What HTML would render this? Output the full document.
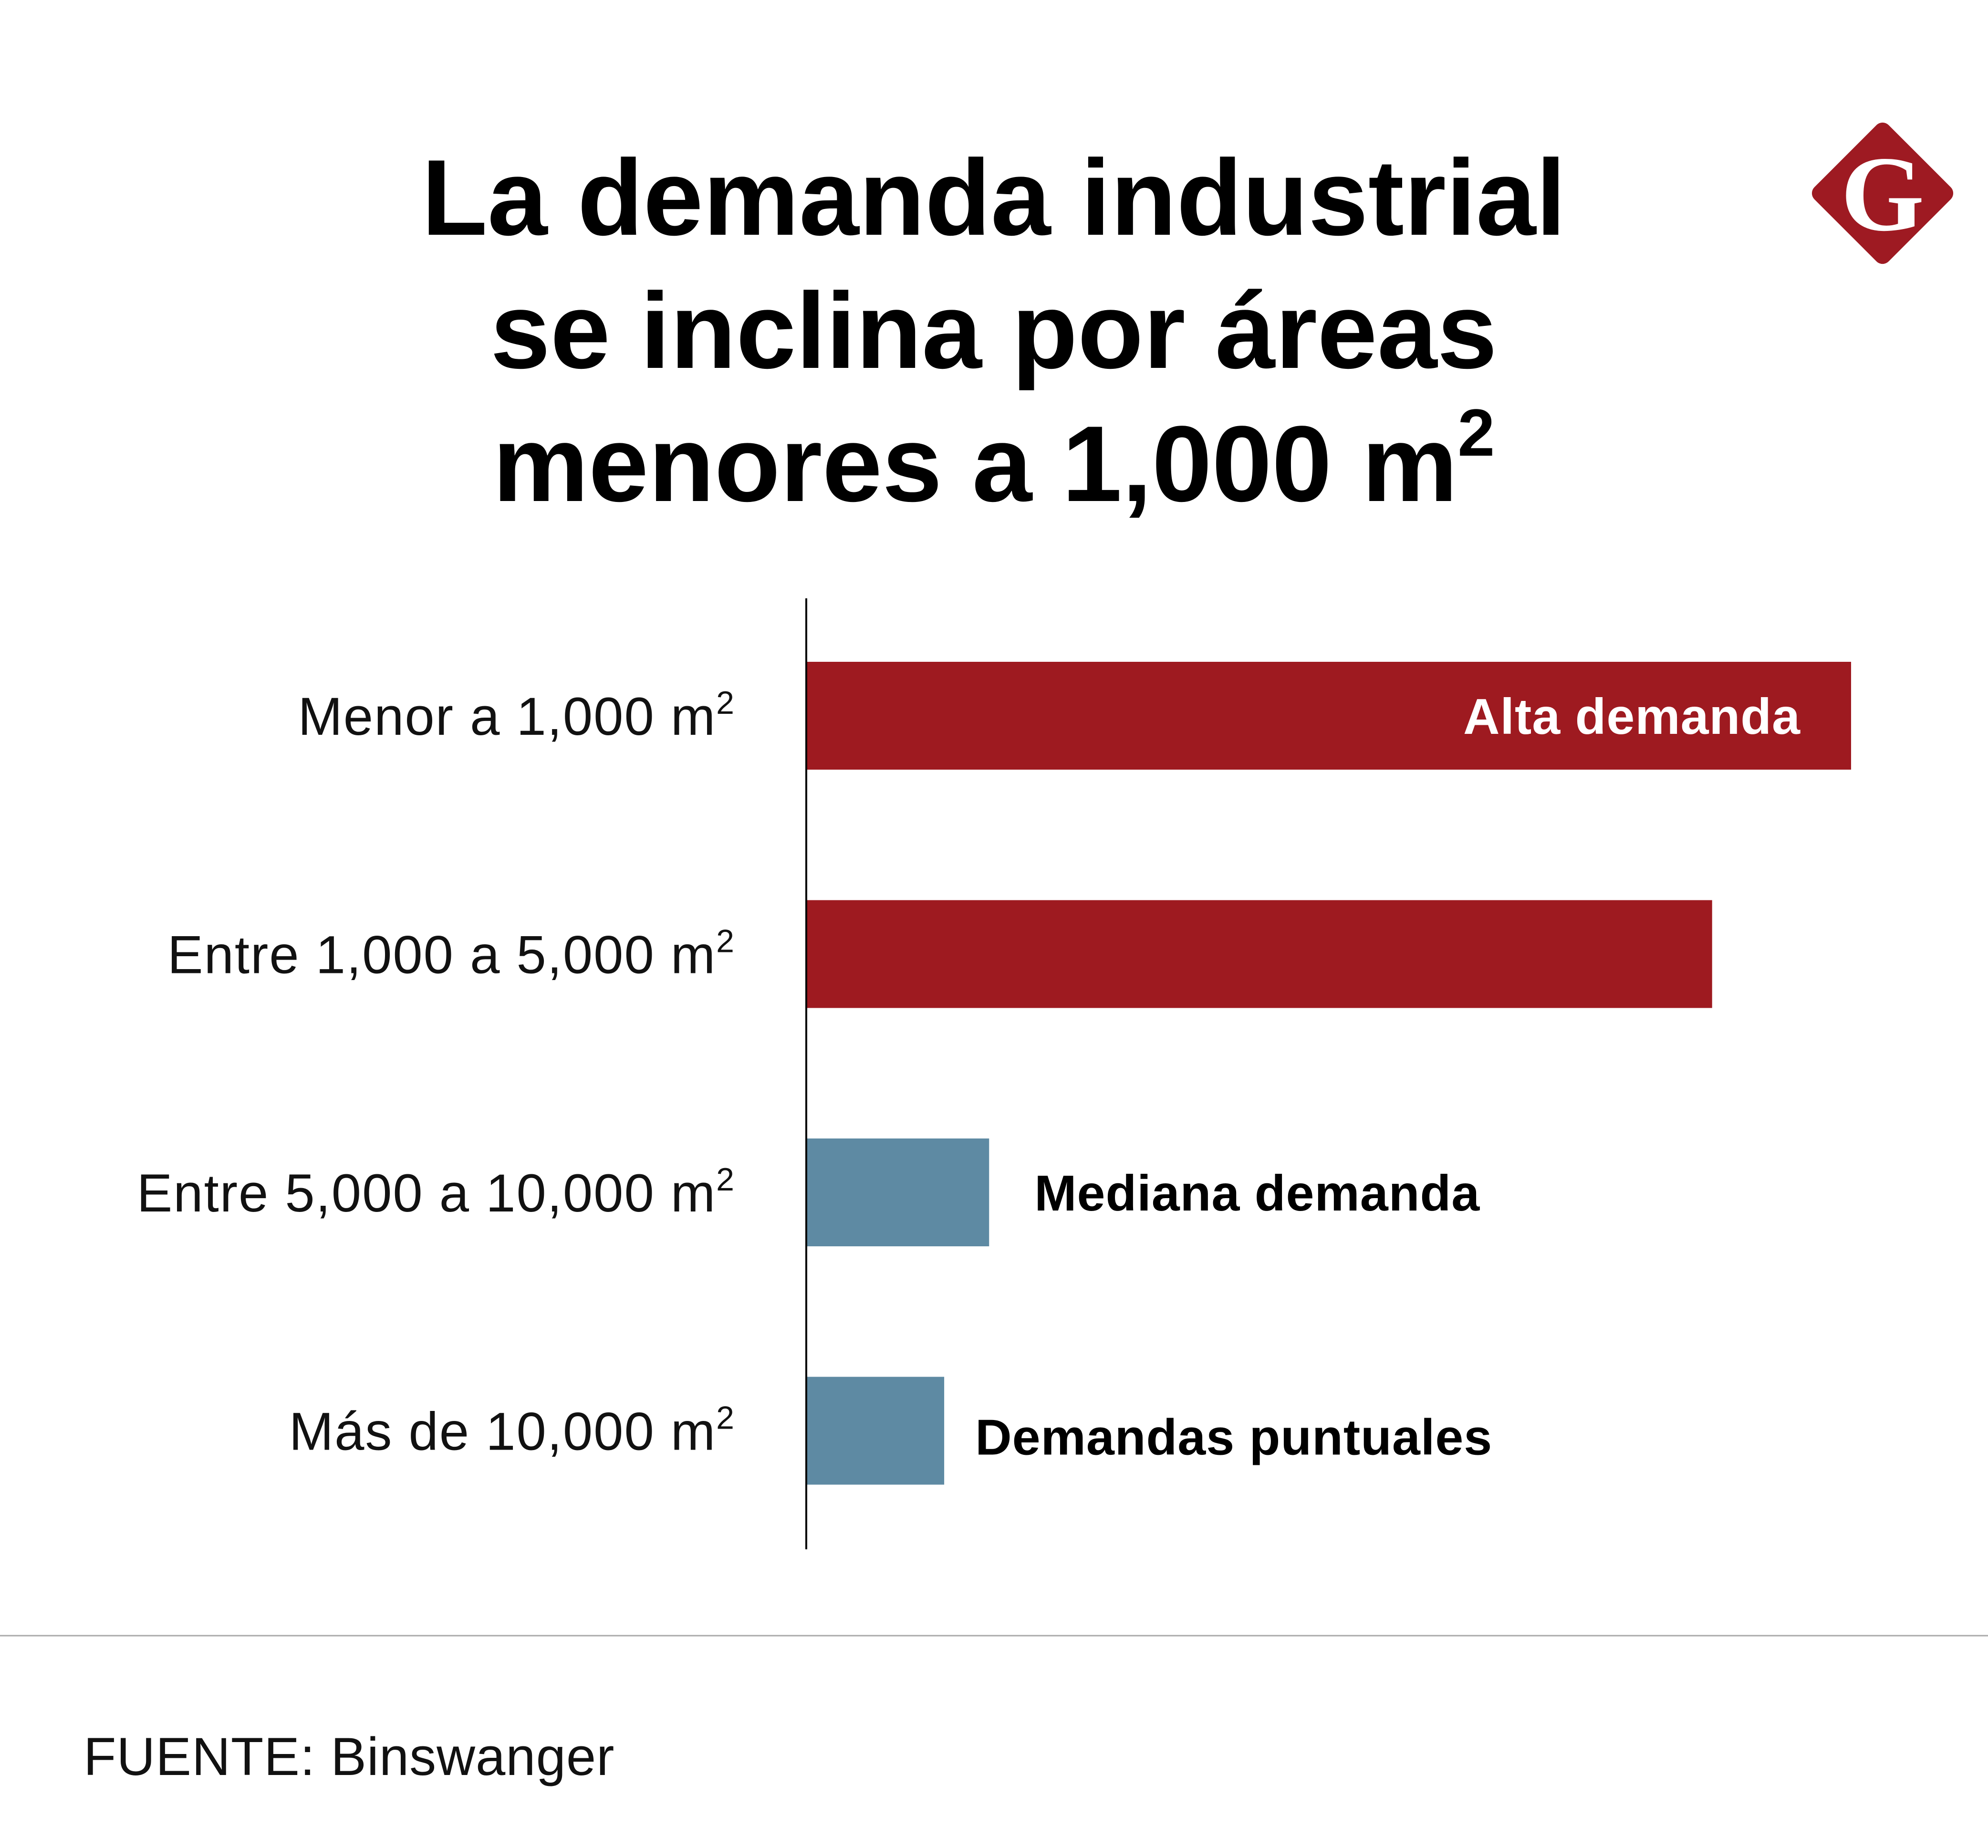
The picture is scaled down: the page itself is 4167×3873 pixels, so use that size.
<!DOCTYPE html>
<html><head><meta charset="utf-8">
<style>
html,body{margin:0;padding:0;background:#fff;}
svg{display:block;}
</style></head>
<body>
<svg id="chart" width="4167" height="3873" viewBox="0 0 4167 3873" xmlns="http://www.w3.org/2000/svg" font-family="'Liberation Sans', sans-serif">
  <rect width="4167" height="3873" fill="#fff"/>
  <g font-weight="bold" font-size="226" text-anchor="middle" fill="#000">
    <text x="2083" y="492">La demanda industrial</text>
    <text x="2083" y="771">se inclina por áreas</text>
    <text x="2083" y="1050">menores a 1,000 m<tspan font-size="140" dy="-95">2</tspan></text>
  </g>
  <g>
    <rect x="3836" y="295" width="220" height="220" rx="18" fill="#9e1a22" transform="rotate(45 3946 405)"/>
    <text x="3946" y="482" text-anchor="middle" font-family="'Liberation Serif', serif" font-weight="bold" font-size="225" fill="#fff">G</text>
  </g>
  <g id="bars"></g>
  <line x1="1690" y1="1254" x2="1690" y2="3247" stroke="#000" stroke-width="4"/>
  <line x1="0" y1="3428" x2="4167" y2="3428" stroke="#aaa" stroke-width="3"/>
  <text x="175" y="3720" font-size="112" letter-spacing="1" fill="#111">FUENTE: Binswanger</text>
</svg>
<script>
const categories = ["Menor a 1,000 m", "Entre 1,000 a 5,000 m", "Entre 5,000 a 10,000 m", "Más de 10,000 m"];
const values = [100, 86.7, 17.5, 13.2];
const barLabels = ["Alta demanda", "", "Mediana demanda", "Demandas puntuales"];
const colors = ["#9e1a20", "#9e1a20", "#5e8aa3", "#5e8aa3"];
const xMax = 100;

const x0 = 1690, xW = 2190;
const yTop = 1387, step = 499.5, barH = 226;
function xs(v){ return x0 + v / xMax * xW; }
function ys(i){ return yTop + i * step; }

const NS = "http://www.w3.org/2000/svg";
const g = document.getElementById("bars");
categories.forEach((c, i) => {
  const y = ys(i);
  const r = document.createElementNS(NS, "rect");
  r.setAttribute("x", x0);
  r.setAttribute("y", y);
  r.setAttribute("width", xs(values[i]) - x0);
  r.setAttribute("height", barH);
  r.setAttribute("fill", colors[i]);
  
  
  g.appendChild(r);

  const t = document.createElementNS(NS, "text");
  t.setAttribute("x", 1541);
  t.setAttribute("y", y + barH / 2 + 40);
  t.setAttribute("text-anchor", "end");
  t.setAttribute("font-size", "112");
  t.setAttribute("letter-spacing", "2");
  t.setAttribute("fill", "#111");
  t.textContent = c;
  const sup = document.createElementNS(NS, "tspan");
  sup.setAttribute("font-size", "68");
  sup.setAttribute("dy", "-44");
  sup.textContent = "2";
  t.appendChild(sup);
  
  
  g.appendChild(t);

  if (barLabels[i]) {
    const l = document.createElementNS(NS, "text");
    const inside = values[i] > 50;
    l.setAttribute("x", inside ? xs(values[i]) - 106 : xs(values[i]) + (i === 2 ? 95 : 65));
    l.setAttribute("y", y + barH / 2 + 38 + (i === 3 ? 12 : 0));
    l.setAttribute("text-anchor", inside ? "end" : "start");
    l.setAttribute("font-size", "106");
    l.setAttribute("letter-spacing", "1");
    l.setAttribute("font-weight", "bold");
    l.setAttribute("fill", inside ? "#fff" : "#000");
    l.textContent = barLabels[i];
    
    
    g.appendChild(l);
  }
});
</script>
</body></html>
